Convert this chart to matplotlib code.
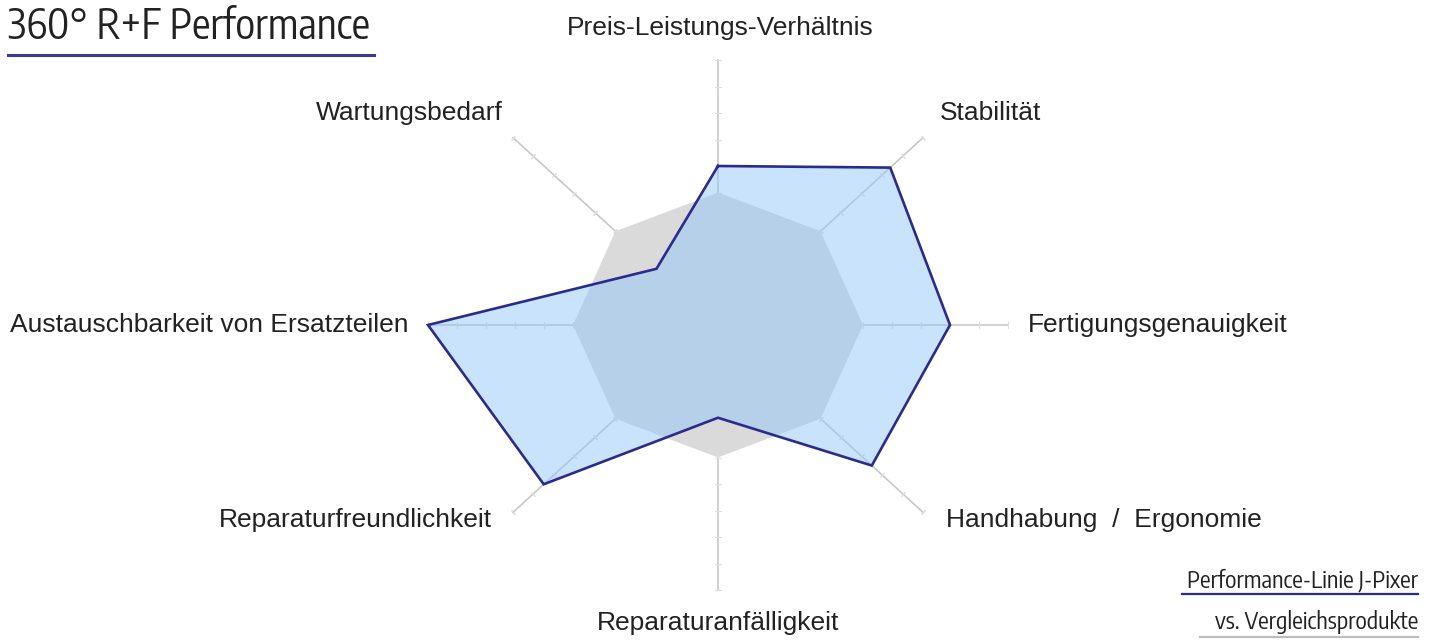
import numpy as np
import matplotlib.pyplot as plt
from matplotlib import font_manager

# data
categories = ["Preis-Leistungs-Verhältnis", "Stabilität", "Fertigungsgenauigkeit",
              "Handhabung  /  Ergonomie", "Reparaturanfälligkeit", "Reparaturfreundlichkeit",
              "Austauschbarkeit von Ersatzteilen", "Wartungsbedarf"]
jpixer = [6, 8.4, 8, 7.5, 3.5, 8.5, 10, 3]
vergleich = [5, 5, 5, 5, 5, 5, 5, 5]
r_max = 10

W, H = 1436, 644
cx, cy = 718, 325          # centre in pixels
sx, sy = 29.0, 26.5        # pixels per unit

# look for a condensed face for title / notes
narrow = None
for f in font_manager.fontManager.ttflist:
    if 'Narrow' in f.name or 'Condensed' in f.name:
        narrow = f.name
        if 'Sans' in f.name:
            break
if narrow is None:
    narrow_kw = dict(family=['Liberation Sans', 'DejaVu Sans'])
    title_size, note_size = 26, 14.5
else:
    narrow_kw = dict(family=[narrow, 'DejaVu Sans'])
    title_size, note_size = 29.5, 17

fig = plt.figure(figsize=(W / 100, H / 100), dpi=100)
ax = fig.add_axes([0, 0, 1, 1])
ax.set_xlim(-cx / sx, (W - cx) / sx)
ax.set_ylim(-(H - cy) / sy, cy / sy)
ax.axis('off')

n = len(categories)
theta = np.pi / 2 - np.arange(n) * 2 * np.pi / n

# axes spokes with small ticks
for t in theta:
    ax.plot([0, r_max * np.cos(t)], [0, r_max * np.sin(t)], color='#c8c8c8', lw=1.2, zorder=1)
    ang = np.degrees(np.arctan2(np.sin(t) * sy, np.cos(t) * sx))
    ks = np.arange(1, r_max + 1)
    ax.plot(ks * np.cos(t), ks * np.sin(t), ls='none', marker=(2, 2, ang),
            ms=4, mew=0.8, color='#dedede', zorder=1)

def closed(vals):
    v = np.array(vals + vals[:1], dtype=float)
    t = np.concatenate([theta, theta[:1]])
    return v * np.cos(t), v * np.sin(t)

gx, gy = closed(vergleich)
ax.fill(gx, gy, color='#dadada', lw=0, zorder=2)

bx, by = closed(jpixer)
ax.fill(bx, by, color=(150 / 255, 200 / 255, 250 / 255), alpha=0.5, lw=0, zorder=3)
ax.plot(bx, by, color='#2b2b8e', lw=1.9, zorder=4, solid_joinstyle='miter')

# category labels (pixel positions)
lab_font = ['Liberation Sans', 'DejaVu Sans']
lab_pos = [(720, 28, 'center'), (940, 113, 'left'), (1028, 325, 'left'),
           (946, 520, 'left'), (718, 623, 'center'), (492, 520, 'right'),
           (408, 325, 'right'), (503, 113, 'right')]
for name, (px, py, ha) in zip(categories, lab_pos):
    fig.text(px / W, 1 - py / H, name, ha=ha, va='center', fontsize=19,
             family=lab_font, color='#222222')

# title
fig.text(8 / W, 1 - 27 / H, "360° R+F Performance", ha='left', va='center',
         fontsize=title_size, color='#222222', **narrow_kw)
fig.add_artist(plt.Line2D([8 / W, 374 / W], [1 - 55 / H, 1 - 55 / H],
                          color='#3a3a9a', lw=2.2))

# legend-like notes
fig.text(1418 / W, 1 - 580 / H, "Performance-Linie J-Pixer", ha='right', va='center',
         fontsize=note_size, color='#222222', **narrow_kw)
fig.add_artist(plt.Line2D([1182 / W, 1418 / W], [1 - 594 / H, 1 - 594 / H],
                          color='#2b2b8e', lw=1.6))
fig.text(1418 / W, 1 - 622 / H, "vs. Vergleichsprodukte", ha='right', va='center',
         fontsize=note_size, color='#222222', **narrow_kw)
fig.add_artist(plt.Line2D([1200 / W, 1418 / W], [1 - 637 / H, 1 - 637 / H],
                          color='#bdbdbd', lw=1.6))

fig.savefig('out.png', dpi=100)
